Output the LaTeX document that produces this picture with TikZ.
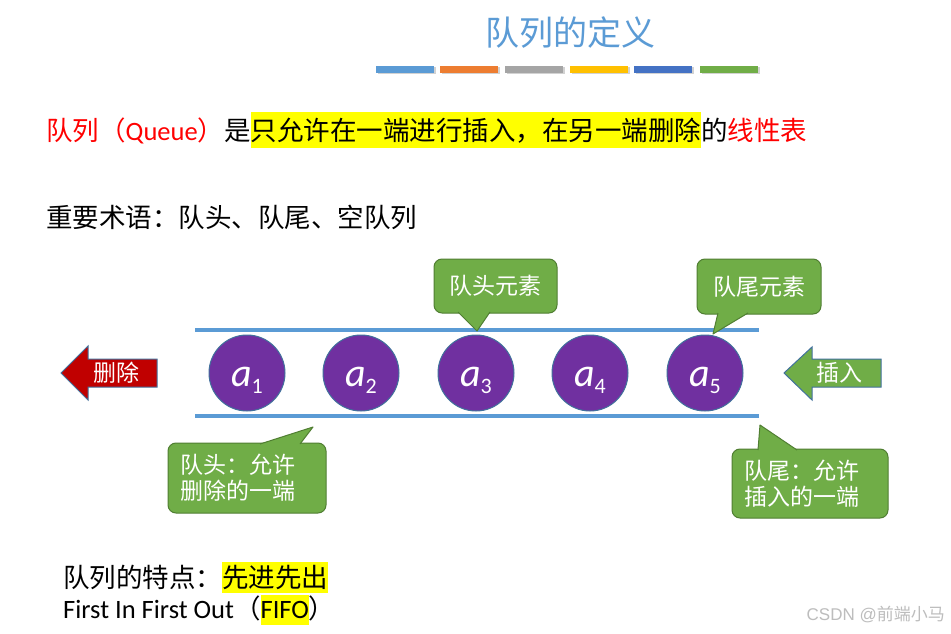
\documentclass[tikz,border=0pt]{standalone}
\usepackage{fontspec}
\setmainfont{Noto Sans CJK SC}
\newfontfamily\latfont{Carlito}
\newfontfamily\wmfont{Liberation Sans}
\usetikzlibrary{shadows}
\definecolor{titleblue}{HTML}{5B9BD5}
\definecolor{barorange}{HTML}{ED7D31}
\definecolor{bargray}{HTML}{A5A5A5}
\definecolor{baryellow}{HTML}{FFC000}
\definecolor{bardblue}{HTML}{4472C4}
\definecolor{bargreen}{HTML}{70AD47}
\definecolor{edgegreen}{HTML}{507E32}
\definecolor{edgeblue}{HTML}{41719C}
\definecolor{elempurple}{HTML}{7030A0}
\definecolor{delred}{HTML}{C00000}
\definecolor{qred}{HTML}{FF0000}
\definecolor{hlyellow}{HTML}{FFFF00}
\definecolor{wmgray}{HTML}{BDBDBD}
\newcommand\bodyfont{\fontsize{26.5pt}{30pt}\selectfont}
\newcommand\calloutfont{\fontsize{23pt}{26pt}\selectfont}
\newcommand\hlbox[3]{{\setlength{\fboxsep}{0pt}\colorbox{hlyellow}{\rule[-#1]{0pt}{#2}#3}}}
\newcommand\elemtext[1]{{\latfont\fontsize{40pt}{40pt}\selectfont\itshape a}\raisebox{-7pt}{\latfont\fontsize{22pt}{22pt}\selectfont #1}}
\begin{document}
\begin{tikzpicture}[x=1pt,y=-1pt,
  barbox/.style={drop shadow={shadow xshift=1.5pt,shadow yshift=-1.5pt,opacity=0.35}},
  rail/.style={draw=titleblue,line width=4pt},
  elem/.style={circle,fill=elempurple,draw=edgeblue,line width=1pt,minimum size=76pt,
    inner sep=0pt,text=white,text height=26pt,text depth=0pt},
  callout/.style={rectangle,rounded corners=8pt,fill=bargreen,draw=edgegreen,line width=1pt,
    text=white,font=\calloutfont},
  pointer/.style={fill=bargreen,draw=edgegreen,line width=1pt,line join=round},
  arrowlbl/.style={text=white,font=\calloutfont,inner sep=0pt},
  textline/.style={anchor=base west,inner sep=0pt}]
\fill [white] (0,0) rectangle (951,634);
\useasboundingbox (0,0) rectangle (951,634);
% title and colour bars
\node [text=titleblue,font=\fontsize{34pt}{34pt}\selectfont] (title) at (570,33) {队列的定义};
\fill [barbox,fill=titleblue] (376,66) rectangle (434,73);
\fill [barbox,fill=barorange] (440,66) rectangle (498,73);
\fill [barbox,fill=bargray] (505,66) rectangle (563,73);
\fill [barbox,fill=baryellow] (570,66) rectangle (628,73);
\fill [barbox,fill=bardblue] (634,66) rectangle (692,73);
\fill [barbox,fill=bargreen] (700,66) rectangle (758,73);
% definition
\node [textline] (defLine) at (46,140) {\bodyfont{\color{qred}队列（{\latfont Queue}）}是\hlbox{8pt}{36pt}{只允许在一端进行插入，在另一端删除}的{\color{qred}线性表}};
\node [textline] (termLine) at (46,227) {\bodyfont 重要术语：队头、队尾、空队列};
% queue body
\draw [rail] (195,330) -- (759,330);
\draw [rail] (195,416) -- (759,416);
\node [elem] (a1) at (247,373) {\elemtext{1}};
\node [elem] (a2) at (361,373) {\elemtext{2}};
\node [elem] (a3) at (476,373) {\elemtext{3}};
\node [elem] (a4) at (590,373) {\elemtext{4}};
\node [elem] (a5) at (705,373) {\elemtext{5}};
% delete / insert arrows
\draw [fill=delred,draw=edgeblue,line width=1pt] (61,373) -- (88,346) -- (88,359) -- (157,359) -- (157,387) -- (88,387) -- (88,400) -- cycle;
\node [arrowlbl] (delLbl) at (116,373) {删除};
\draw [fill=bargreen,draw=edgeblue,line width=1pt] (784,373) -- (812,347) -- (812,359) -- (881,359) -- (881,387) -- (812,387) -- (812,400) -- cycle;
\node [arrowlbl] (insLbl) at (839,373) {插入};
% callouts
\node [callout,minimum width=123pt,minimum height=54pt] (hdElem) at (495.5,286) {队头元素};
\coordinate (hdElemTip) at (477,331);
\filldraw [pointer] ([xshift=-37.5pt,yshift=1.5pt]hdElem.south) -- (hdElemTip) -- ([xshift=-5.5pt,yshift=1.5pt]hdElem.south);
\node [callout,minimum width=124pt,minimum height=55pt] (tlElem) at (759,286.5) {队尾元素};
\coordinate (tlElemTip) at (713,334);
\filldraw [pointer] ([xshift=-41pt,yshift=1.5pt]tlElem.south) -- (tlElemTip) -- ([xshift=-11pt,yshift=1.5pt]tlElem.south);
\node [callout,minimum width=158pt,minimum height=70pt,text width=134pt,inner xsep=12pt,align=left] (hdEnd) at (247,478) {队头：允许\\删除的一端};
\coordinate (hdEndTip) at (313,427);
\filldraw [pointer] ([xshift=13pt,yshift=-1.5pt]hdEnd.north) -- (hdEndTip) -- ([xshift=53pt,yshift=-1.5pt]hdEnd.north);
\node [callout,minimum width=156pt,minimum height=69pt,text width=132pt,inner xsep=12pt,align=left] (tlEnd) at (810,483.5) {队尾：允许\\插入的一端};
\coordinate (tlEndTip) at (760,425);
\filldraw [pointer] ([xshift=-52pt,yshift=-1.5pt]tlEnd.north) -- (tlEndTip) -- ([xshift=-13pt,yshift=-1.5pt]tlEnd.north);
% features
\node [textline] (featLine) at (63,587) {\bodyfont 队列的特点：\hlbox{6pt}{31pt}{先进先出}};
\node [textline] (fifoLine) at (63,618.5) {\bodyfont{\latfont First In First Out}（\hlbox{6.5pt}{30pt}{\latfont FIFO}）};
\node [anchor=base east,inner sep=0pt,text=wmgray,font=\fontsize{17pt}{17pt}\selectfont] (mark) at (945,620) {{\wmfont CSDN @}前端小马};
\end{tikzpicture}
\end{document}
